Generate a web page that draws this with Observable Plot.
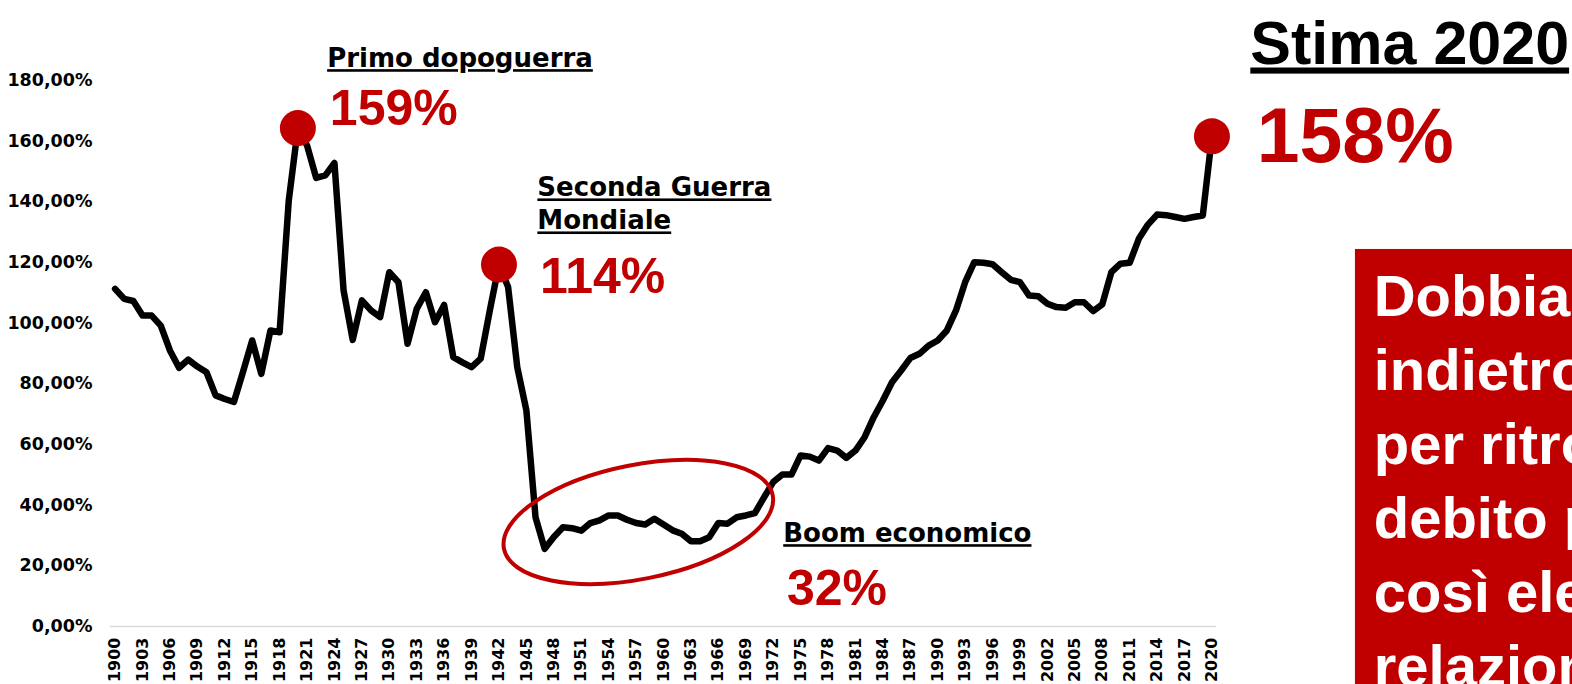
<!DOCTYPE html>
<html>
<head>
<meta charset="utf-8">
<script src="https://cdn.jsdelivr.net/npm/d3@7"></script>
<script src="https://cdn.jsdelivr.net/npm/@observablehq/plot@0.6"></script>
<style>
  html, body { margin: 0; padding: 0; background: #fff; overflow: hidden; }
  #chart svg { display: block; }
</style>
</head>
<body>
<div id="chart"></div>
<script>
// ---- data ----
const years = d3.range(1900, 2021);
const debtPct = [
  111.3, 108.0, 107.3, 102.5, 102.5, 99.2, 91.0, 85.3, 88.0, 85.7,   // 1900-1909
  83.8, 76.2, 75.0, 74.0, 84.0, 94.3, 83.3, 97.6, 97.0, 140.4,       // 1910-1919
  164.3, 158.6, 147.9, 148.7, 152.8, 110.8, 94.5, 107.5, 104.2, 102.0, // 1920-1929
  116.8, 113.5, 93.2, 104.7, 110.2, 100.3, 106.0, 88.8, 87.1, 85.5,  // 1930-1939
  88.3, 104.2, 119.3, 111.9, 85.5, 71.2, 36.0, 25.6, 29.5, 32.7,     // 1940-1949
  32.4, 31.6, 34.1, 35.0, 36.6, 36.6, 35.2, 34.1, 33.6, 35.5,        // 1950-1959
  33.6, 31.7, 30.6, 28.1, 28.1, 29.4, 34.1, 33.9, 36.0, 36.6,        // 1960-1969
  37.4, 42.6, 47.6, 50.1, 50.1, 56.4, 56.0, 54.7, 58.8, 58.0,        // 1970-1979
  55.6, 58.0, 62.4, 69.0, 74.5, 80.5, 84.4, 88.5, 89.9, 92.6,        // 1980-1989
  94.3, 97.6, 104.2, 113.5, 120.1, 119.9, 119.4, 116.8, 114.3, 113.5, // 1990-1999
  109.1, 108.9, 106.4, 105.3, 105.1, 106.9, 106.9, 104.0, 106.2, 116.8, // 2000-2009
  119.6, 119.9, 127.8, 132.5, 135.8, 135.6, 135.0, 134.4, 135.0, 135.5, // 2010-2019
  161.6                                                               // 2020
];
const highlightYears = [1920, 1942, 2020];
const yTicks = [0, 20, 40, 60, 80, 100, 120, 140, 160, 180];
const xTickYears = d3.range(1900, 2021, 3);

const labelWW1 = "Primo dopoguerra";
const valueWW1 = "159%";
const labelWW2 = "Seconda Guerra\nMondiale";
const valueWW2 = "114%";
const labelBoom = "Boom economico";
const valueBoom = "32%";
const labelEst = "Stima 2020";
const valueEst = "158%";
const boxText = "Dobbiamo tornare\nindietro di 100 anni\nper ritrovare un\ndebito pubblico\ncosì elevato in\nrelazione al PIL";

// ---- build ----
const red = "#C00000";
const series = years.map((year, i) => ({year, value: debtPct[i]}));
const highlights = series.filter(d => highlightYears.includes(d.year));

const SANS = "DejaVu Sans";
const ARIAL = "Liberation Sans";

function note(text, x, y, o = {}) {
  return Plot.text([text], {
    x: () => x, y: () => y, text: d => d,
    textAnchor: "start", lineAnchor: "bottom",
    fontWeight: "bold", ...o
  });
}

const plot = Plot.plot({
  width: 1572,
  height: 684,
  marginLeft: 110,
  marginRight: 356,
  marginTop: 80,
  marginBottom: 58,
  style: {fontFamily: SANS, color: "#000", background: "#fff", overflow: "visible"},
  x: {domain: [1899.5, 2020.5]},
  y: {domain: [0, 180]},
  marks: [
    Plot.ruleY([0], {stroke: "#d9d9d9", strokeWidth: 1.5}),
    Plot.axisY(yTicks, {
      tickSize: 0, tickPadding: 18, label: null,
      tickFormat: d => d.toFixed(2).replace(".", ",") + "%",
      fontSize: 17.5, fontWeight: "bold", fill: "#000"
    }),
    Plot.axisX(xTickYears, {
      tickSize: 0, tickPadding: 11, tickRotate: -90, label: null,
      tickFormat: d => String(d),
      fontSize: 16, fontWeight: "bold", fill: "#000"
    }),
    Plot.line(series, {
      x: "year", y: "value", stroke: "#000", strokeWidth: 6.5,
      strokeLinejoin: "round", strokeLinecap: "round"
    }),
    Plot.dot(highlights, {x: "year", y: "value", r: 18, fill: red, stroke: "none"}),
    // annotations
    note(labelWW1, 1923.2, 184.4, {fontFamily: SANS, fontSize: 26, fill: "#000", ariaDescription: "underlined"}),
    note(valueWW1, 1923.5, 165.2, {fontFamily: ARIAL, fontSize: 50, fill: red}),
    note(labelWW2, 1946.2, 130.9, {fontFamily: SANS, fontSize: 26, lineHeight: 1.27, fill: "#000", ariaDescription: "underlined"}),
    note(valueWW2, 1946.5, 109.8, {fontFamily: ARIAL, fontSize: 50, fill: red}),
    note(labelBoom, 1973.1, 27.8, {fontFamily: SANS, fontSize: 26, fill: "#000", ariaDescription: "underlined"}),
    note(valueBoom, 1973.5, 7.0, {fontFamily: ARIAL, fontSize: 50, fill: red}),
    note(labelEst, 2024.2, 185.6, {fontFamily: ARIAL, fontSize: 61, fill: "#000", ariaDescription: "underlined-big"}),
    note(valueEst, 2024.9, 153.2, {fontFamily: ARIAL, fontSize: 77, fill: red}),
    Plot.rect([boxText], {x1: () => 2035.7, x2: () => 2070, y1: () => -40, y2: () => 124.3, fill: red}),
    note(boxText, 2037.7, -19.5, {fontFamily: ARIAL, fontSize: 58, lineHeight: 1.276, fill: "#fff"})
  ]
});

// ellipse around the "boom economico" years, positioned through Plot's scales
const sx = plot.scale("x"), sy = plot.scale("y");
const cx = sx.apply(1957.3), cy = sy.apply(34.3);
d3.select(plot).append("ellipse")
  .attr("cx", cx).attr("cy", cy)
  .attr("rx", 137).attr("ry", 57)
  .attr("transform", `rotate(-11.3 ${cx} ${cy})`)
  .attr("fill", "none").attr("stroke", red).attr("stroke-width", 4);

d3.select(plot).selectAll('g[aria-description="underlined"] text')
  .style("text-decoration", "underline")
  .style("text-decoration-thickness", "2px");
d3.select(plot).selectAll('g[aria-description="underlined-big"] text')
  .style("text-decoration", "underline")
  .style("text-decoration-thickness", "3.5px");

document.getElementById("chart").appendChild(plot);
</script>
</body>
</html>
